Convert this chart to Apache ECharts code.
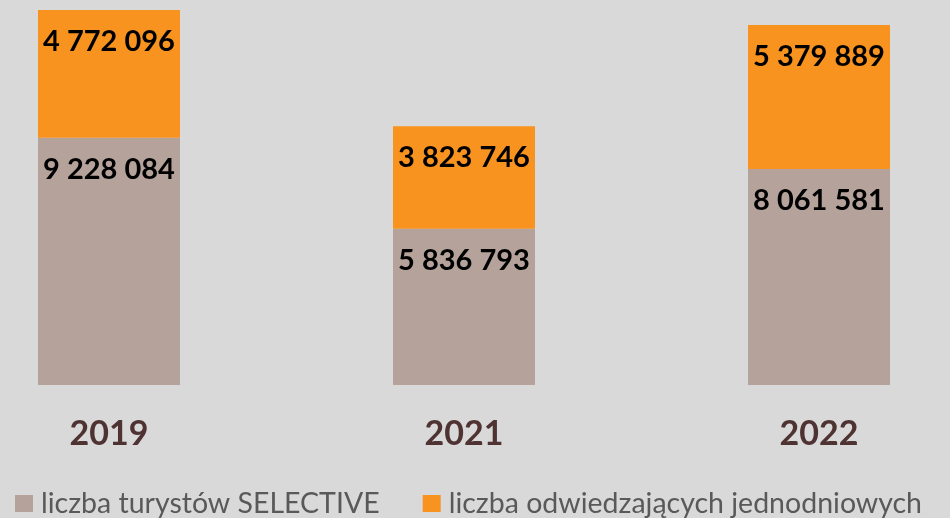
<!DOCTYPE html>
<html><head><meta charset="utf-8">
<script src="https://cdn.jsdelivr.net/npm/echarts@6/dist/echarts.min.js"></script>
<style>html,body{margin:0;padding:0;background:#D9D9D9}#c{width:950px;height:518px}</style>
</head><body><div id="c"></div>
<script>
const categories = ['2019', '2021', '2022'];
const seriesNames = ['liczba turystów SELECTIVE', 'liczba odwiedzających jednodniowych'];
const selective = [9228084, 5836793, 8061581];
const dayVisitors = [4772096, 3823746, 5379889];

function fmt(v){ return String(v).replace(/\B(?=(\d{3})+(?!\d))/g, ' '); }

const chart = echarts.init(document.getElementById('c'));
const labelStyle = {
  show: true, position: 'insideTop', distance: 17,
  color: '#000', fontFamily: 'Lato', fontWeight: 'bold', fontSize: 29,
  formatter: p => fmt(p.value)
};
chart.setOption({
  backgroundColor: '#D9D9D9',
  animation: false,
  grid: { left: -68.5, right: -46.5, top: 10, bottom: 133, containLabel: false, outerBoundsMode: 'none' },
  legend: {
    left: 10, top: 484, itemWidth: 18, itemHeight: 17, itemGap: 43,
    icon: 'rect',
    textStyle: { fontFamily: 'Lato', fontSize: 28.5, color: '#595959', padding: [0,0,0,3] },
    data: seriesNames
  },
  xAxis: {
    type: 'category', data: categories,
    axisLine: { show: false }, axisTick: { show: false },
    axisLabel: { margin: 32, color: '#4F3333', fontFamily: 'Lato', fontWeight: 'bold', fontSize: 34 }
  },
  yAxis: { type: 'value', min: 0, max: 14000180, show: false, splitLine: { show: false } },
  series: [
    { name: seriesNames[0], type: 'bar', stack: 't', data: selective, barWidth: 142,
      itemStyle: { color: '#B5A39B' }, label: labelStyle },
    { name: seriesNames[1], type: 'bar', stack: 't', data: dayVisitors, barWidth: 142,
      itemStyle: { color: '#F7931E' }, label: labelStyle }
  ]
});
</script></body></html>
